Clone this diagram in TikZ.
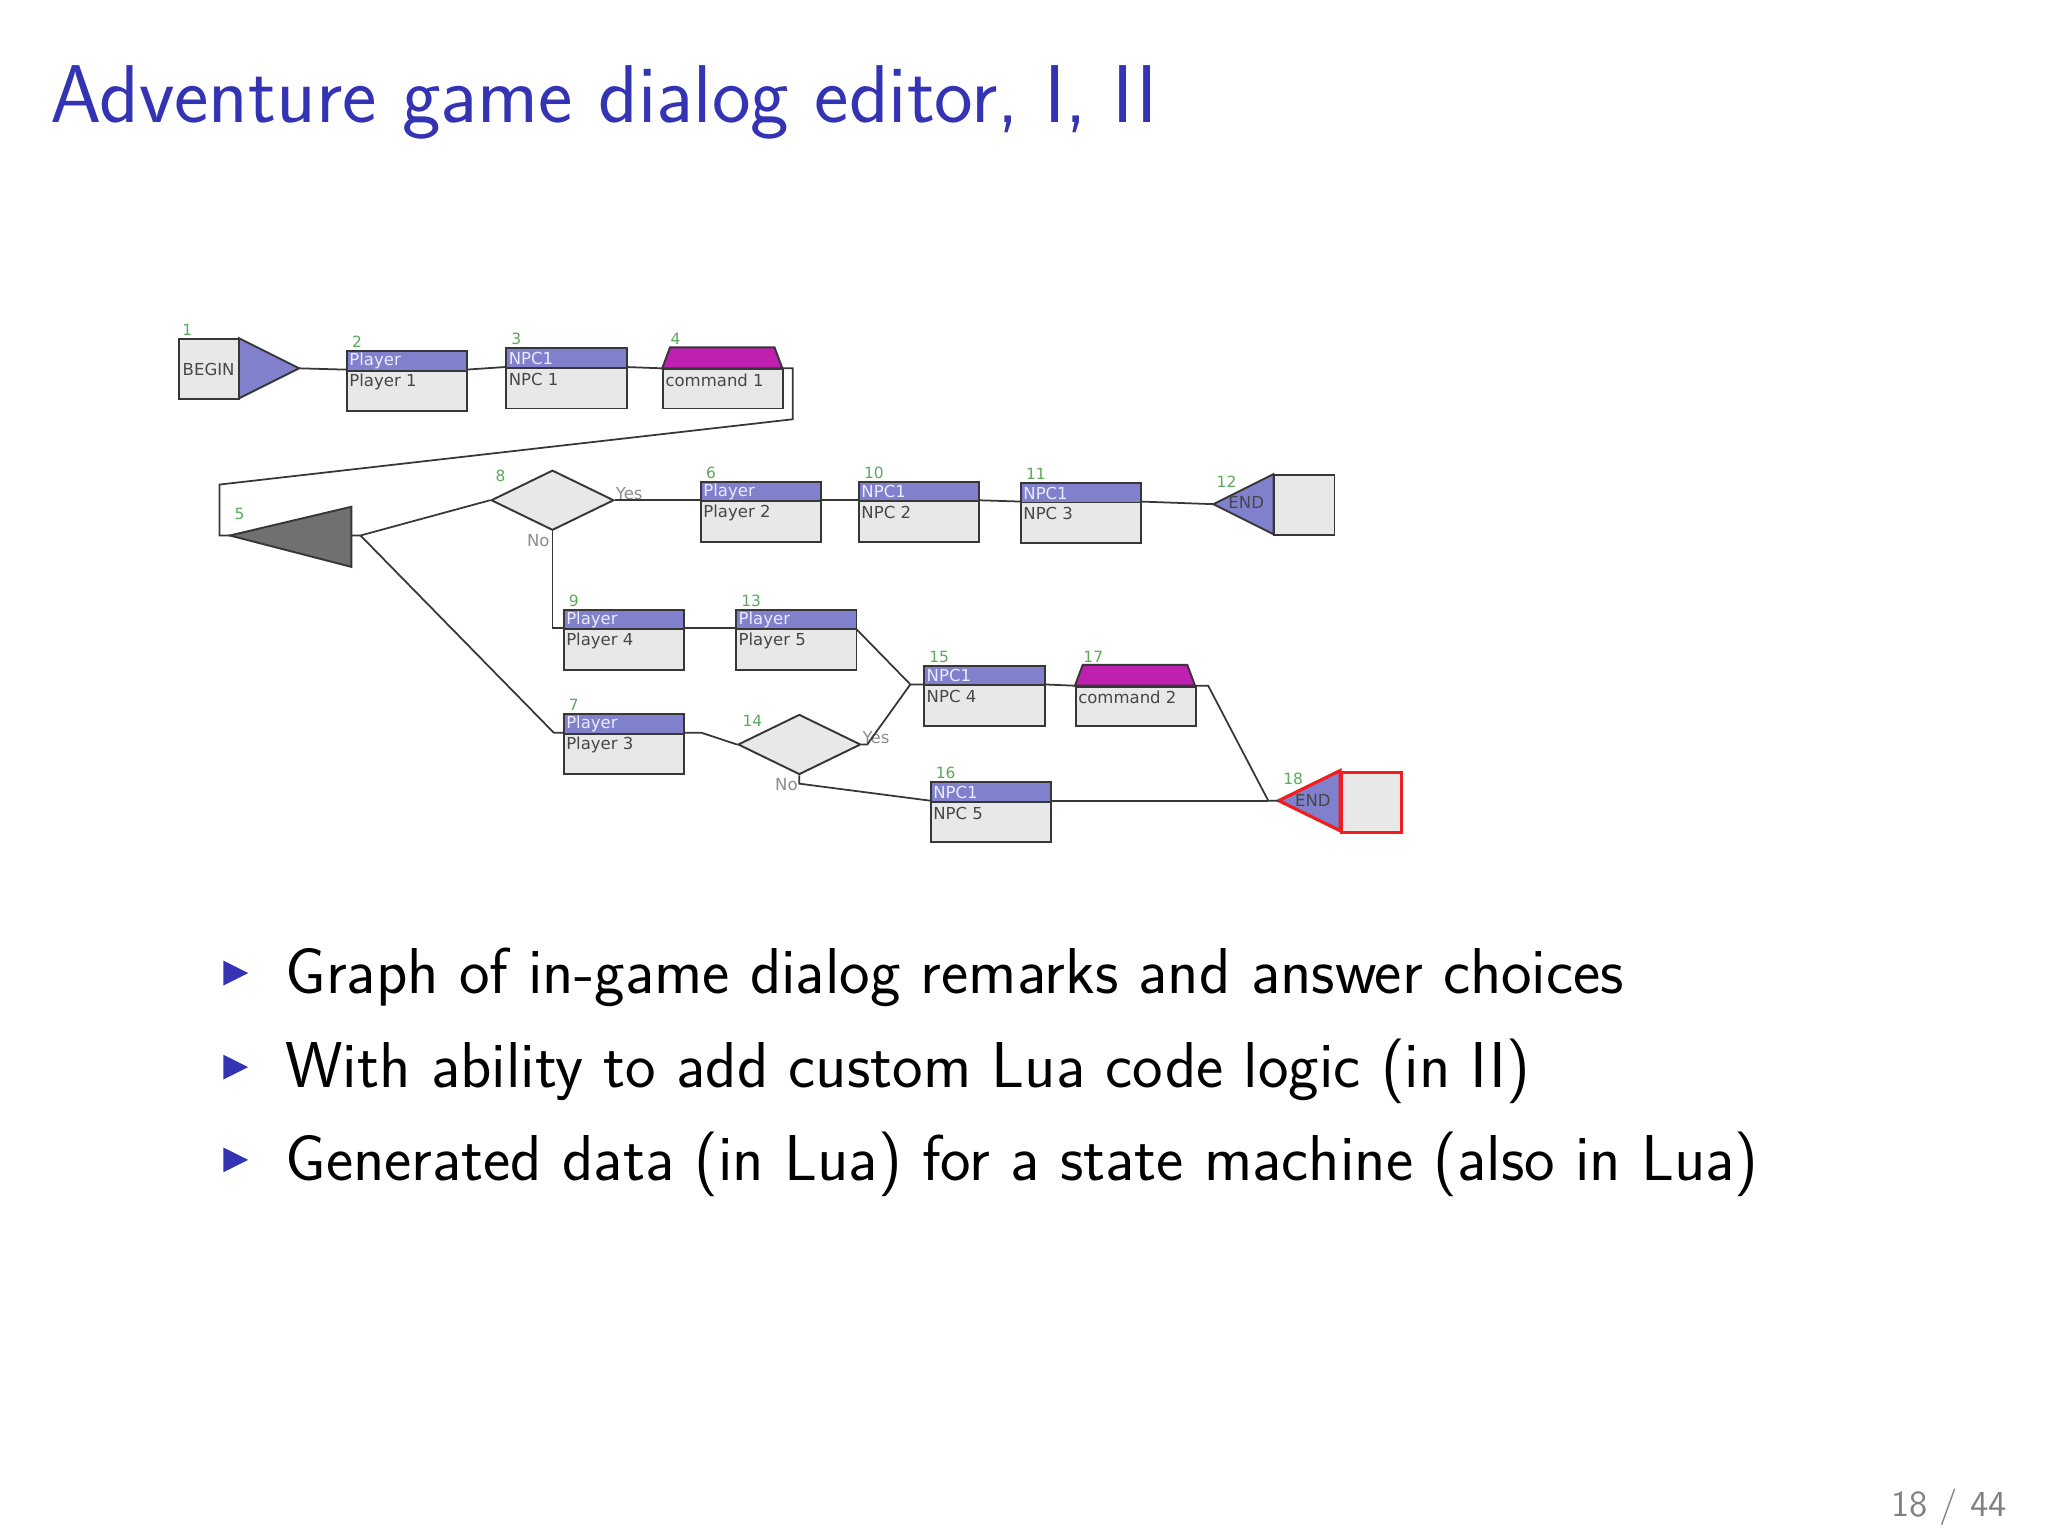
\documentclass[tikz,border=0pt]{standalone}
\usepackage{fontspec}
\usetikzlibrary{shapes.geometric}
\newfontfamily\dlgfont{DejaVu Sans}
\definecolor{titleblue}{RGB}{51,51,179}
\definecolor{hdrfill}{RGB}{128,128,204}
\definecolor{hdrtxt}{RGB}{235,235,255}
\definecolor{boxfill}{RGB}{232,232,232}
\definecolor{boxline}{RGB}{55,55,55}
\definecolor{cmdfill}{RGB}{192,32,176}
\definecolor{numgreen}{RGB}{90,170,90}
\definecolor{yngray}{RGB}{140,140,140}
\definecolor{darktri}{RGB}{112,112,112}
\definecolor{endred}{RGB}{240,30,30}
\definecolor{pagegray}{RGB}{128,128,128}
\tikzset{
  bodybox/.style={draw=boxline, fill=boxfill, line width=0.55pt, inner sep=0pt,
    minimum width=1.2016cm, minimum height=0.6008cm},
  hdrbox/.style={draw=boxline, fill=hdrfill, line width=0.55pt, inner sep=0pt,
    minimum width=1.2016cm, minimum height=0.196cm},
  sqbox/.style={draw=boxline, fill=boxfill, line width=0.55pt, inner sep=0pt,
    minimum width=0.6008cm, minimum height=0.6008cm},
  hdrtext/.style={anchor=west, inner sep=0pt, text=hdrtxt, font=\dlgfont\fontsize{4.7}{5}\selectfont},
  bodytext/.style={anchor=west, inner sep=0pt, text=black!72, font=\dlgfont\fontsize{4.7}{5}\selectfont},
  numlbl/.style={anchor=base west, inner sep=0pt, text=numgreen, font=\dlgfont\fontsize{4.4}{5}\selectfont},
  ynlbl/.style={inner sep=0pt, text=yngray, font=\dlgfont\fontsize{4.7}{5}\selectfont},
  edge/.style={draw=boxline, line width=0.5pt},
  decision/.style={diamond, draw=boxline, fill=boxfill, line width=0.55pt, inner sep=0pt,
    minimum width=1.2277cm, minimum height=0.6008cm},
}
% name, x, y (top-left), header, body, number
\newcommand\dlgnode[6]{%
  \node[bodybox, anchor=north west] (#1) at (#2,#3) {};
  \node[hdrbox, anchor=north west] (#1h) at (#2,#3) {};
  \coordinate (#1l) at (#2,#3+15);
  \coordinate (#1r) at (#2+92,#3+15);
  \node[hdrtext] (#1ht) at (#2+2,#3+8.5) {#4};
  \node[bodytext] (#1bt) at (#2+2,#3+24.5) {#5};
  \node[numlbl] (#1n) at (#2+4,#3-2) {#6};
}
% name, x, y (top-left of trapezoid level), body, number
\newcommand\cmdnode[5]{%
  \filldraw[fill=cmdfill, draw=boxline, line width=0.55pt] (#2,#3+16) -- (#2+6,#3) -- (#2+86,#3) -- (#2+92,#3+16) -- cycle;
  \node[bodybox, anchor=north west, minimum height=0.3918cm] (#1) at (#2,#3+16) {};
  \coordinate (#1l) at (#2,#3+16);
  \coordinate (#1r) at (#2+92,#3+16);
  \node[bodytext] (#1bt) at (#2+2,#3+25) {#4};
  \node[numlbl] (#1n) at (#2+6,#3-2) {#5};
}
\begin{document}
\begin{tikzpicture}[x=0.013061cm, y=-0.013061cm]
\useasboundingbox[fill=white] (0,0) rectangle (1568,1176);

% title
\node[anchor=base west, inner sep=0pt, text=titleblue, font=\sffamily\fontsize{23.33}{28}\selectfont] (title) at (38,94) {Adventure game dialog editor, I, II};

% ---------- diagram ----------
% node 1 BEGIN
\node[sqbox, anchor=north west, font=\dlgfont\fontsize{4.7}{5}\selectfont, text=black!72] (b1) at (136,259) {BEGIN};
\filldraw[fill=hdrfill, draw=boxline, line width=0.55pt] (183,259) -- (229,282) -- (183,305) -- cycle;
\coordinate (b1tip) at (229,282);
\node[numlbl] (b1n) at (139,257) {1};

\dlgnode{n2}{265}{268}{Player}{Player 1}{2}
\dlgnode{n3}{387}{266}{NPC1}{NPC 1}{3}
\cmdnode{c4}{507}{266}{command 1}{4}

% node 5
\filldraw[fill=darktri, draw=boxline, line width=0.55pt] (176,410) -- (269,388) -- (269,434) -- cycle;
\coordinate (t5tip) at (176,410);
\coordinate (t5r) at (269,410);
\node[numlbl] (t5n) at (179,398) {5};

% node 8
\node[decision] (d8) at (423,383) {};
\node[numlbl] (d8n) at (379,369) {8};
\node[ynlbl, anchor=west] (d8y) at (471,378) {Yes};
\node[ynlbl, anchor=west] (d8no) at (403,414) {No};

\dlgnode{n6}{536}{368}{Player}{Player 2}{6}
\dlgnode{n10}{657}{368}{NPC1}{NPC 2}{10}
\dlgnode{n11}{781}{369}{NPC1}{NPC 3}{11}

% node 12 END
\node[sqbox, anchor=north west] (e12) at (975,363) {};
\filldraw[fill=hdrfill, draw=boxline, line width=0.55pt] (929,386) -- (975,363) -- (975,409) -- cycle;
\coordinate (e12tip) at (929,386);
\node[bodytext] (e12t) at (940,385) {END};
\node[numlbl] (e12n) at (931,373) {12};

\dlgnode{n9}{431}{466}{Player}{Player 4}{9}
\dlgnode{n13}{563}{466}{Player}{Player 5}{13}
\dlgnode{n7}{431}{546}{Player}{Player 3}{7}

% node 14
\node[decision] (d14) at (612,570) {};
\node[numlbl] (d14n) at (568,556) {14};
\node[ynlbl, anchor=west] (d14y) at (660,565) {Yes};
\node[ynlbl, anchor=west] (d14no) at (593,601) {No};

\dlgnode{n15}{707}{509}{NPC1}{NPC 4}{15}
\cmdnode{c17}{823}{509}{command 2}{17}
\dlgnode{n16}{712}{598}{NPC1}{NPC 5}{16}

% node 18 END (selected, red)
\node[sqbox, draw=endred, line width=0.9pt, anchor=north west] (e18) at (1026,590) {};
\filldraw[fill=hdrfill, draw=endred, line width=0.9pt] (979,613) -- (1026,590) -- (1026,636) -- cycle;
\coordinate (e18tip) at (979,613);
\node[bodytext] (e18t) at (991,613) {END};
\node[numlbl] (e18n) at (982,601) {18};

% junction points
\coordinate (j15) at (697,524);
\coordinate (j18) at (971,613);

% ---------- connectors ----------
\draw[edge] (b1tip) -- (n2l);
\draw[edge] (n2r) -- (n3l);
\draw[edge] (n3r) -- (c4l);
\draw[edge] (c4r) -- (607,282) -- (607,321) -- (168,371) -- (168,410) -- (t5tip);
\draw[edge] (t5r) -- (276,410) -- (d8.west);
\draw[edge] (d8.east) -- (n6l);
\draw[edge] (n6r) -- (n10l);
\draw[edge] (n10r) -- (n11l);
\draw[edge] (n11r) -- (e12tip);
\draw[edge] (d8.south) |- (n9l);
\draw[edge] (n9r) -- (n13l);
\draw[edge] (n13r) -- (j15) -- (n15l);
\draw[edge] (n15r) -- (c17l);
\draw[edge] (c17r) -- (925,525) -- (j18) -- (e18tip);
\draw[edge] (276,410) -- (424,561) -- (n7l);
\draw[edge] (n7r) -- (537,561) -- (d14.west);
\draw[edge] (d14.east) -- (664,570) -- (j15);
\draw[edge] (d14.south) -- (612,600) -- (n16l);
\draw[edge] (n16r) -- (j18);

% ---------- bullets ----------
\foreach \yy in {745,817,888} {
  \fill[titleblue] (171,\yy-9.5) -- (190,\yy) -- (171,\yy+9.5) -- cycle;
}
\node[anchor=base west, inner sep=0pt, font=\sffamily\fontsize{18.45}{22}\selectfont] (i1) at (218,761) {Graph of in-game dialog remarks and answer choices};
\node[anchor=base west, inner sep=0pt, font=\sffamily\fontsize{18.45}{22}\selectfont] (i2) at (218,833) {With ability to add custom Lua code logic (in II)};
\node[anchor=base west, inner sep=0pt, font=\sffamily\fontsize{18.45}{22}\selectfont] (i3) at (218,904) {Generated data (in Lua) for a state machine (also in Lua)};

% page number
\node[anchor=base east, inner sep=0pt, text=pagegray, font=\sffamily\fontsize{10.4}{13}\selectfont] (pg) at (1537,1161) {18 / 44};
\end{tikzpicture}
\end{document}
